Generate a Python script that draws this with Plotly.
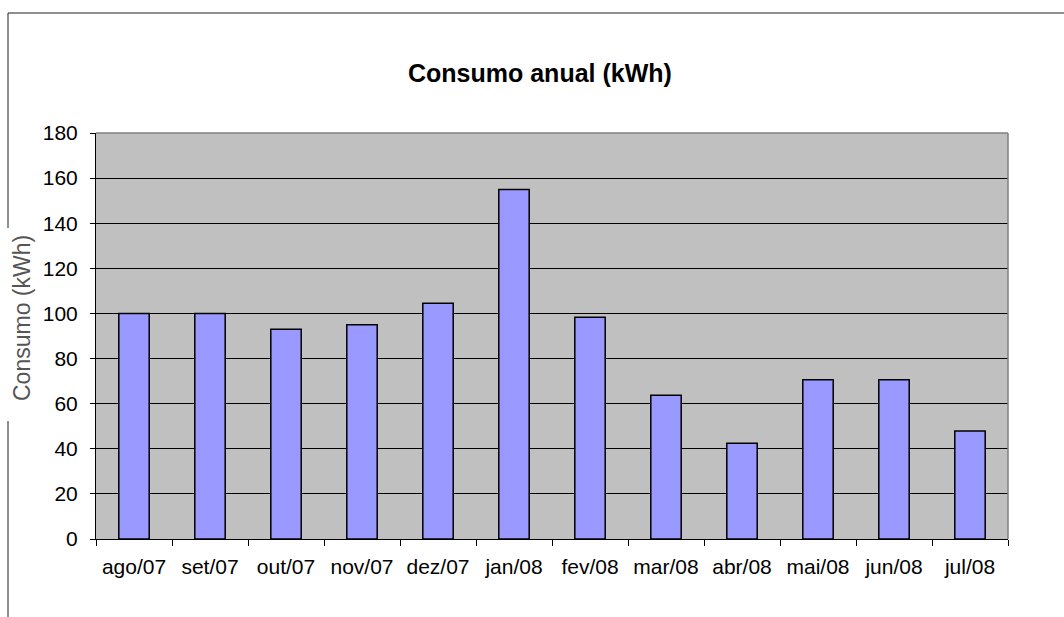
import plotly.graph_objects as go

months = ["ago/07", "set/07", "out/07", "nov/07", "dez/07", "jan/08",
          "fev/08", "mar/08", "abr/08", "mai/08", "jun/08", "jul/08"]
consumo = [100, 100, 93, 95, 104.5, 155, 98.3, 63.7, 42.5, 70.6, 70.6, 47.9]
y_ticks = [0, 20, 40, 60, 80, 100, 120, 140, 160, 180]

W, H = 1064, 617
L, R, T, B = 96, 1008, 133, 539


def px(x):
    return (x - L) / (R - L)


def py(y):
    return (B - y) / (B - T)


fig = go.Figure(go.Bar(
    x=months, y=consumo,
    marker=dict(color="#9999FF", line=dict(color="black", width=1.5)),
))

fig.update_layout(
    width=W, height=H,
    margin=dict(l=L, r=W - R, t=T, b=H - B, pad=0),
    paper_bgcolor="white",
    plot_bgcolor="#C0C0C0",
    bargap=0.6,
    showlegend=False,
    font=dict(family="Arial, Liberation Sans, sans-serif", color="black", size=20),
    xaxis=dict(
        type="category", showgrid=False, showline=True, linecolor="black", linewidth=1,
        ticks="outside", ticklen=6, tickcolor="black", tickson="boundaries",
        tickfont=dict(size=21), ticklabelstandoff=9,
    ),
    yaxis=dict(
        range=[0, 180], tickvals=y_ticks, showgrid=True, gridcolor="black", gridwidth=1,
        showline=True, linecolor="black", linewidth=1, zeroline=False,
        ticks="outside", ticklen=5, tickcolor="black",
        tickfont=dict(size=21), ticklabelstandoff=8,
    ),
    shapes=[
        # outer chart border
        dict(type="rect", xref="paper", yref="paper",
             x0=px(8), x1=px(1100), y0=py(660), y1=py(13),
             line=dict(color="#202020", width=1), layer="above"),
        # plot area top and right border (gray)
        dict(type="line", xref="paper", yref="paper", x0=0, x1=1, y0=1, y1=1,
             line=dict(color="#808080", width=1.5), layer="above"),
        dict(type="line", xref="paper", yref="paper", x0=1, x1=1, y0=0, y1=1,
             line=dict(color="#808080", width=1.5), layer="above"),
        # white box behind y title
        dict(type="rect", xref="paper", yref="paper",
             x0=px(0), x1=px(43), y0=py(421), y1=py(228),
             fillcolor="white", line=dict(width=0), layer="above"),
    ],
    annotations=[
        dict(text="<b>Consumo anual (kWh)</b>", xref="paper", yref="paper",
             x=px(540), y=py(73), xanchor="center", yanchor="middle",
             showarrow=False, font=dict(size=25, color="black")),
        dict(text="Consumo (kWh)", xref="paper", yref="paper",
             x=px(22), y=py(318), xanchor="center", yanchor="middle",
             textangle=-90, showarrow=False, font=dict(size=23, color="#555555")),
    ],
)

fig.write_html("out.html")
